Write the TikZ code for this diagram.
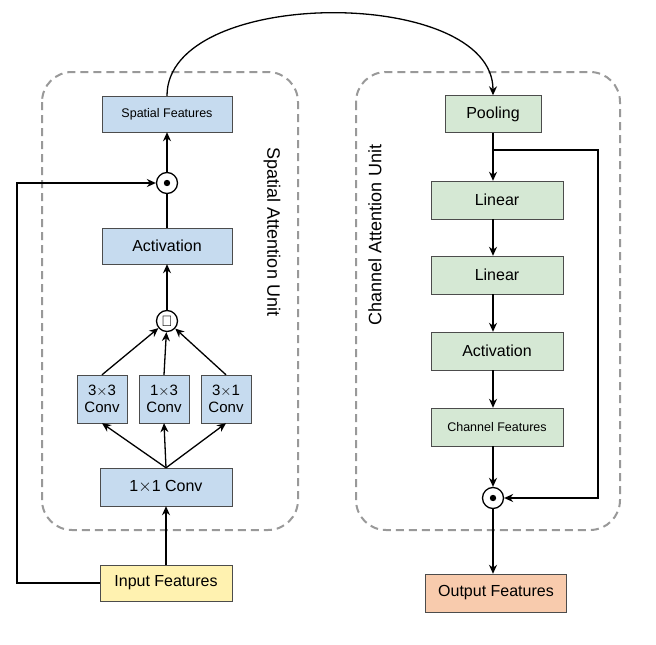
\documentclass[tikz,border=0pt]{standalone}
\usepackage{fontspec}
\setmainfont{Liberation Sans}
\usetikzlibrary{arrows.meta}
\begin{document}
\begin{tikzpicture}[x=1pt,y=-1pt,
 bl/.style={draw=black!70,fill=blueF,inner sep=0,minimum width=#1,font=\fontsize{16}{18}\selectfont,align=center},
 gr/.style={draw=black!70,fill=greenF,inner sep=0,minimum width=#1,font=\fontsize{16}{18}\selectfont},
 op/.style={draw,circle,line width=1.3,minimum size=21,inner sep=0},
 ar/.style={-{Stealth[length=9,width=8]},line width=1.3},
 unit/.style={draw=black!40,line width=2,dash pattern=on 8 off 5,rounded corners=30}]
\definecolor{blueF}{HTML}{C6DBEF}
\definecolor{greenF}{HTML}{D5E8D4}
\definecolor{yellowF}{HTML}{FFF2B0}
\definecolor{orangeF}{HTML}{F8CBAD}
\useasboundingbox (0,0) rectangle (656,645);
\draw[unit] (42,72) rectangle (298,530);
\draw[unit] (356,72) rectangle (620,530);
\node[bl=130,minimum height=36,font=\fontsize{12.5}{14}\selectfont] (sf) at (167,114) {Spatial Features};
\node[op] (m1) at (167,183) {};
\fill (m1) circle (3.2);
\node[bl=130,minimum height=36] (act) at (167,246) {Activation};
\node[op] (sig) at (167,321) {\fontsize{15}{16}\selectfont\bfseries$\mathbf{\Sigma}$};
\node[bl=50,minimum height=48,font=\fontsize{15}{17}\selectfont] (c1) at (102,399) {3$\times$3\\Conv};
\node[bl=50,minimum height=48,font=\fontsize{15}{17}\selectfont] (c2) at (164,399) {1$\times$3\\Conv};
\node[bl=50,minimum height=48,font=\fontsize{15}{17}\selectfont] (c3) at (226,399) {3$\times$1\\Conv};
\node[bl=132,minimum height=38] (c11) at (166,487) {1$\times$1 Conv};
\node[bl=132,minimum height=36,fill=yellowF] (in) at (166,583) {Input Features};
\node[rotate=-90,font=\fontsize{18}{20}\selectfont] at (272,232) {Spatial Attention Unit};
\node[rotate=90,font=\fontsize{18}{20}\selectfont] at (375,235) {Channel Attention Unit};
\node[gr=96,minimum height=37] (pool) at (493,114) {Pooling};
\node[gr=132,minimum height=38] (l1) at (497,200) {Linear};
\node[gr=132,minimum height=38] (l2) at (497,275) {Linear};
\node[gr=132,minimum height=38] (act2) at (497,351) {Activation};
\node[gr=132,minimum height=38,font=\fontsize{12.5}{14}\selectfont] (cf) at (497,427) {Channel Features};
\node[op] (m2) at (493,498) {};
\fill (m2) circle (3.2);
\node[draw=black!70,fill=orangeF,minimum width=141,minimum height=38,inner sep=0,font=\fontsize{16}{18}\selectfont] (out) at (496,593) {Output Features};
\draw[ar] (in) -- (c11);
\foreach \c in {c1,c2,c3} \draw[ar] (c11.north) -- (\c.south);
\foreach \c in {c1,c2,c3} \draw[ar] (\c.north) -- (sig);
\draw[ar] (sig) -- (act);
\draw[line width=1.3] (act) -- (m1);
\draw[ar] (m1) -- (sf);
\draw[ar] (in.west) -- (17,583) -- (17,183) -- (m1.west);
\draw[ar] (sf.north) .. controls (167,-14) and (493,-14) .. (pool.north);
\draw[ar] (pool.south) -- (pool.south|-l1.north);
\draw[ar] (l1.south-|pool.south) -- (l2.north-|pool.south);
\draw[ar] (l2.south-|pool.south) -- (act2.north-|pool.south);
\draw[ar] (act2.south-|pool.south) -- (cf.north-|pool.south);
\draw[ar] (cf.south-|pool.south) -- (m2);
\draw[ar] (m2) -- (out.north-|m2);
\draw[ar] (493,150) -- (598,150) -- (598,498) -- (m2.east);
\end{tikzpicture}
\end{document}
